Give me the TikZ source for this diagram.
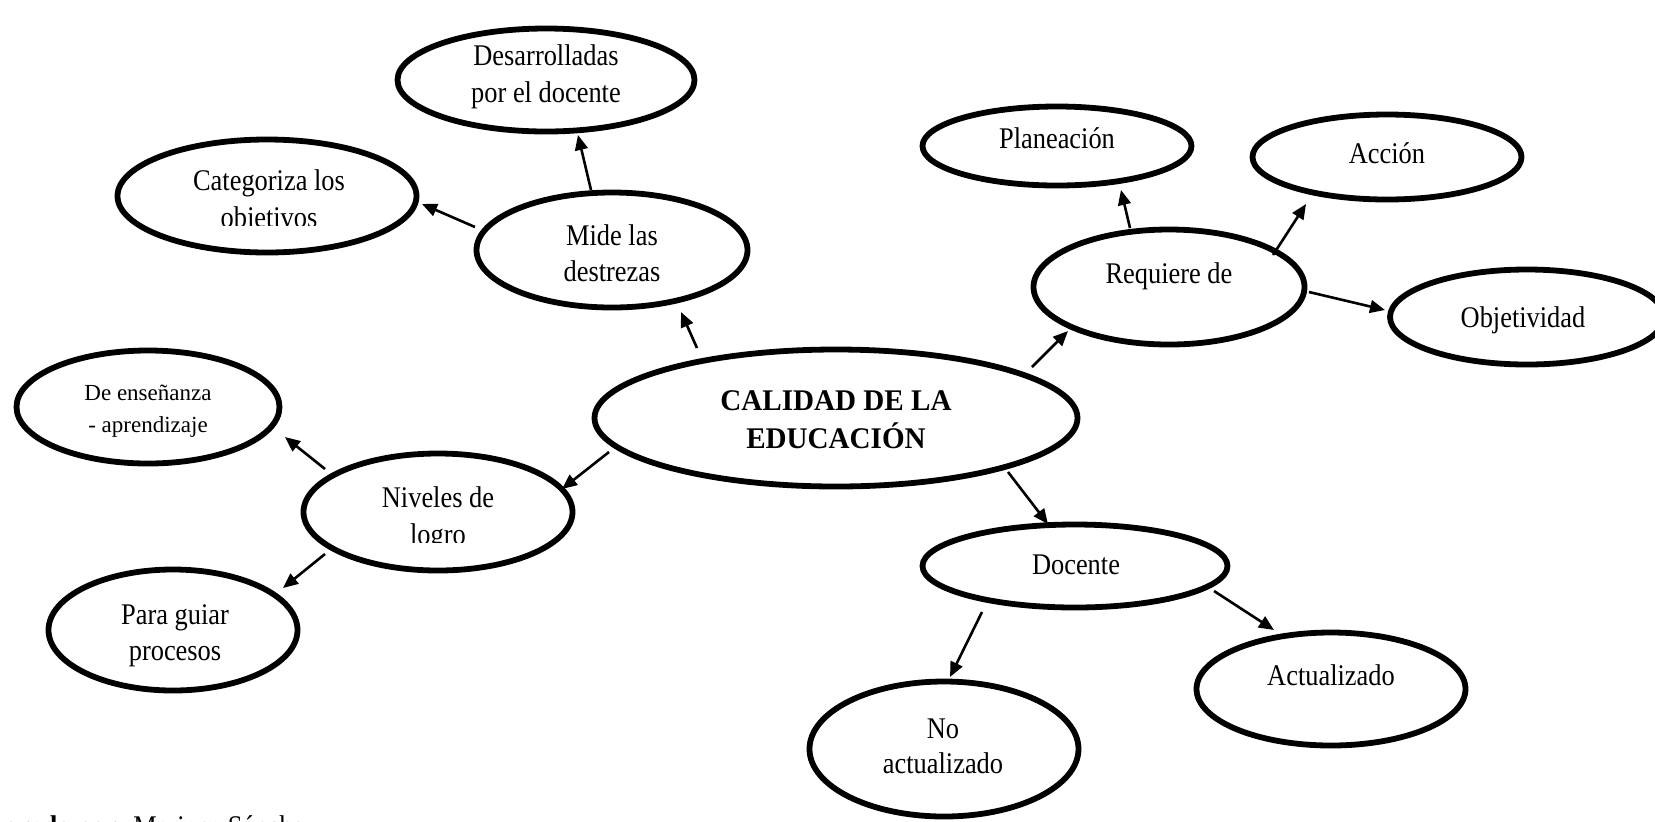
\documentclass[tikz,border=0pt]{standalone}
\usepackage{fontspec}
\setmainfont[FakeStretch=0.88]{Liberation Serif}
\newfontfamily\plainserif{Liberation Serif}
\newfontfamily\widebold[FakeStretch=0.97]{Liberation Serif}
\usetikzlibrary{arrows.meta,shapes.geometric}
\tikzset{
  oval/.style={ellipse, draw=black, line width=2.9pt, inner sep=0pt},
  txt/.style={anchor=base, inner sep=0pt, font=\fontsize{15pt}{18pt}\selectfont},
  smalltxt/.style={anchor=base, inner sep=0pt, font=\plainserif\fontsize{11.5pt}{14pt}\selectfont},
  boldtxt/.style={anchor=base, inner sep=0pt, font=\widebold\bfseries\fontsize{15pt}{18pt}\selectfont},
  footbold/.style={anchor=base east, inner sep=0pt, font=\bfseries\fontsize{15pt}{18pt}\selectfont},
  arr/.style={line width=1.3pt, -{Triangle[length=7.5pt,width=6.4pt]}}
}
\begin{document}
\begin{tikzpicture}[x=0.5pt,y=-0.5pt]
\useasboundingbox (0,0) rectangle (1655,821);
\fill[white] (0,0) rectangle (1655,821);
\clip (0,0) rectangle (1655,821);

% ellipses
\node[oval, minimum width=148.5pt, minimum height=51.5pt] (des) at (546,80) {};
\node[oval, minimum width=149.5pt, minimum height=56.5pt] (cat) at (267,196) {};
\node[oval, minimum width=135.5pt, minimum height=57.5pt] (mide) at (612,250) {};
\node[oval, minimum width=134.5pt, minimum height=39.5pt] (plan) at (1057,146) {};
\node[oval, minimum width=134.5pt, minimum height=42.5pt] (acc) at (1387,157) {};
\node[oval, minimum width=135.5pt, minimum height=57.5pt] (req) at (1169,287) {};
\node[oval, minimum width=137pt, minimum height=47.5pt] (obj) at (1527,317) {};
\node[oval, minimum width=131.5pt, minimum height=56.5pt] (ens) at (148,407) {};
\node[oval, minimum width=241.5pt, minimum height=68.5pt] (cal) at (836,418) {};
\node[oval, minimum width=134.5pt, minimum height=58.5pt] (niv) at (438,512) {};
\node[oval, minimum width=124.5pt, minimum height=60.5pt] (gui) at (173,630) {};
\node[oval, minimum width=152.5pt, minimum height=41.5pt] (doc) at (1075,566) {};
\node[oval, minimum width=134.5pt, minimum height=56.5pt] (act) at (1331,689) {};
\node[oval, minimum width=134.5pt, minimum height=67.5pt] (noact) at (944,749) {};

% texts
\node[txt] (des1) at (546,65) {Desarrolladas};
\node[txt] (des2) at (546,102) {por el docente};
\node[txt] (cat1) at (269,190) {Categoriza los};
\begin{scope}
  \clip (150,200) rectangle (400,225);
  \node[txt] (cat2) at (269,227) {objetivos};
\end{scope}
\node[txt] (mide1) at (612,245) {Mide las};
\node[txt] (mide2) at (612,281) {destrezas};
\node[txt] (plan1) at (1057,148) {Planeación};
\node[txt] (acc1) at (1387,163) {Acción};
\node[txt] (req1) at (1169,283) {Requiere de};
\node[txt] (obj1) at (1523,327) {Objetividad};
\node[smalltxt] (ens1) at (148,400) {De enseñanza};
\node[smalltxt] (ens2) at (148,432) {- aprendizaje};
\node[boldtxt] (cal1) at (836,410) {CALIDAD DE LA};
\node[boldtxt] (cal2) at (836,448) {EDUCACIÓN};
\node[txt] (niv1) at (438,507) {Niveles de};
\begin{scope}
  \clip (330,515) rectangle (560,542);
  \node[txt] (niv2) at (438,544) {logro};
\end{scope}
\node[txt] (gui1) at (175,624) {Para guiar};
\node[txt] (gui2) at (175,660) {procesos};
\node[txt] (doc1) at (1076,574) {Docente};
\node[txt] (act1) at (1331,685) {Actualizado};
\node[txt] (noact1) at (943,738) {No};
\node[txt] (noact2) at (943,773) {actualizado};

% footer (mostly cut off by the lower edge)
\node[txt, anchor=base west] (foot2) at (133,836) {Mariana Sánchez};
\node[footbold] (foot1) at (126,836) {Elaborado por:};

% connector end points
\coordinate (md-s) at (591,190); \coordinate (md-e) at (578,135);
\coordinate (mc-s) at (475,227); \coordinate (mc-e) at (422,204);
\coordinate (cm-s) at (697,348); \coordinate (cm-e) at (681,312);
\coordinate (cr-s) at (1032,367); \coordinate (cr-e) at (1068,331);
\coordinate (rp-s) at (1130,228); \coordinate (rp-e) at (1121,190);
\coordinate (ra-s) at (1273,255); \coordinate (ra-e) at (1306,204);
\coordinate (ro-s) at (1309,292); \coordinate (ro-e) at (1385,310);
\coordinate (cn-s) at (609,452); \coordinate (cn-e) at (562,489);
\coordinate (ne-s) at (325,469); \coordinate (ne-e) at (285,437);
\coordinate (ng-s) at (325,554); \coordinate (ng-e) at (283,588);
\coordinate (cd-s) at (1008,472); \coordinate (cd-e) at (1048,524);
\coordinate (da-s) at (1214,591); \coordinate (da-e) at (1274,630);
\coordinate (dn-s) at (982,612); \coordinate (dn-e) at (950,677);

\draw[arr] (md-s) -- (md-e);
\draw[arr] (mc-s) -- (mc-e);
\draw[arr] (cm-s) -- (cm-e);
\draw[arr] (cr-s) -- (cr-e);
\draw[arr] (rp-s) -- (rp-e);
\draw[arr] (ra-s) -- (ra-e);
\draw[arr] (ro-s) -- (ro-e);
\draw[arr] (cn-s) -- (cn-e);
\draw[arr] (ne-s) -- (ne-e);
\draw[arr] (ng-s) -- (ng-e);
\draw[arr] (cd-s) -- (cd-e);
\draw[arr] (da-s) -- (da-e);
\draw[arr] (dn-s) -- (dn-e);
\end{tikzpicture}
\end{document}
